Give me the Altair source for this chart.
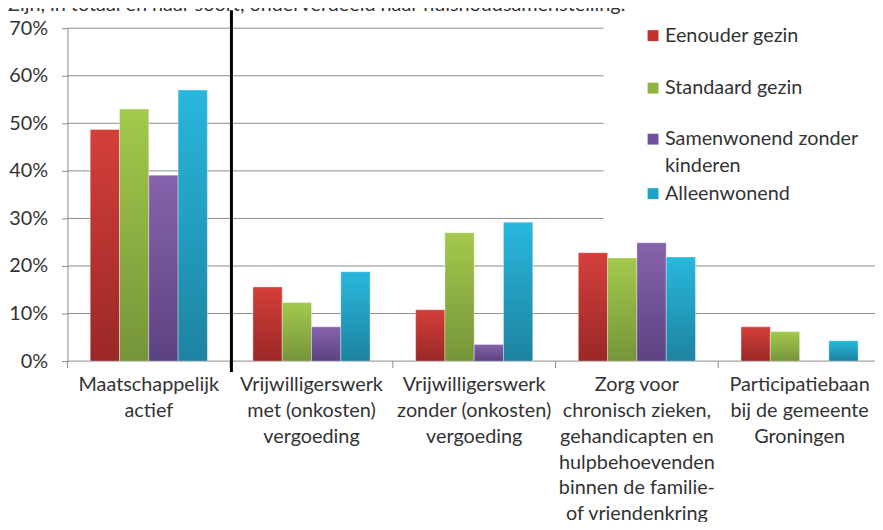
import altair as alt
import pandas as pd

# ---------------- data ----------------
categories = [
    "Maatschappelijk\nactief",
    "Vrijwilligerswerk\nmet (onkosten)\nvergoeding",
    "Vrijwilligerswerk\nzonder (onkosten)\nvergoeding",
    "Zorg voor\nchronisch zieken,\ngehandicapten en\nhulpbehoevenden\nbinnen de familie-\nof vriendenkring",
    "Participatiebaan\nbij de gemeente\nGroningen",
]
series = ["Eenouder gezin", "Standaard gezin", "Samenwonend zonder kinderen", "Alleenwonend"]
eenouder = [0.487, 0.156, 0.108, 0.228, 0.072]
standaard = [0.530, 0.123, 0.270, 0.217, 0.062]
samenwonend = [0.391, 0.072, 0.035, 0.249, None]
alleenwonend = [0.570, 0.188, 0.292, 0.219, 0.043]
y_ticks = [0.0, 0.1, 0.2, 0.3, 0.4, 0.5, 0.6, 0.7]
legend_labels = ["Eenouder gezin", "Standaard gezin", "Samenwonend zonder\nkinderen", "Alleenwonend"]
title_text = "Zijn, in totaal en naar soort, onderverdeeld naar huishoudsamenstelling."

# ---------------- styles ----------------
FONT = "Lato"
TEXT = "#333333"
GRID = "#8c8c8c"
FS = 20
top_colors = ["#d43f3b", "#a4c94c", "#8663ac", "#29b7dd"]
bottom_colors = ["#9a2826", "#76943a", "#5c4282", "#1d83a0"]
mid_colors = ["#c0312e", "#8fb43f", "#7250a0", "#1ea3c8"]
legend_y = [7.5, 60.5, 112, 167]  # layout positions (px, plot coords)

W, H = 821, 336      # plot runs slightly past the visible right edge (cropped like the reference)
P_INNER = 0.28
edge_px = -(P_INNER / 2) * W / len(categories)   # band start -> category boundary

rows = []
for s, vals in zip(series, [eenouder, standaard, samenwonend, alleenwonend]):
    for c, v in zip(categories, vals):
        if v is not None:
            rows.append({"category": c, "series": s, "value": v})
df = pd.DataFrame(rows)

x_scale = alt.Scale(domain=categories, paddingInner=P_INNER, paddingOuter=P_INNER / 2)
x_axis = alt.Axis(
    title=None, labelAngle=0, labelExpr="split(datum.label, '\\n')",
    labelFont=FONT, labelFontSize=FS, labelColor=TEXT, labelLineHeight=26,
    labelBaseline="top", labelAlign="center", labelPadding=14, labelLimit=300,
    ticks=False, tickSize=0, domain=False, grid=False,
)
y_scale = alt.Scale(domain=[0, 0.7], nice=False)
y_axis = alt.Axis(
    title=None, values=y_ticks, format=".0%", grid=False,
    tickColor=GRID, domainColor=GRID, tickSize=6, labelPadding=14,
    labelFont=FONT, labelFontSize=FS, labelColor=TEXT,
)

# horizontal gridlines
grid_df = pd.DataFrame({"v": y_ticks})
grid = alt.Chart(grid_df).mark_rule(color=GRID, strokeWidth=1).encode(
    y=alt.Y("v:Q", scale=y_scale, axis=y_axis),
    x=alt.value(0), x2=alt.value(W),
)

base = alt.Chart(df)
bars = []
for s, t, b in zip(series, top_colors, bottom_colors):
    grad = {"gradient": "linear", "x1": 0, "y1": 0, "x2": 0, "y2": 1,
            "stops": [{"offset": 0, "color": t}, {"offset": 1, "color": b}]}
    bars.append(
        base.transform_filter(alt.datum.series == s)
        .mark_bar(stroke="white", strokeOpacity=0.35, strokeWidth=1)
        .encode(
            x=alt.X("category:N", scale=x_scale, axis=x_axis),
            xOffset=alt.XOffset("series:N", scale=alt.Scale(domain=series, paddingInner=0, paddingOuter=0)),
            y=alt.Y("value:Q", scale=y_scale, axis=y_axis),
            fill=alt.value(grad),
        )
    )

# category-boundary tick marks below the baseline
cat_df = pd.DataFrame({"category": categories})
ticks = alt.Chart(cat_df).mark_rule(color=GRID, strokeWidth=1).encode(
    x=alt.X("category:N", scale=x_scale, bandPosition=0, axis=x_axis),
    xOffset=alt.value(edge_px),
    y=alt.value(H), y2=alt.value(H + 7),
)

dummy = pd.DataFrame({"a": [0]})
box = alt.Chart(dummy).mark_rect(color="white").encode(
    x=alt.value(541), x2=alt.value(W), y=alt.value(-18), y2=alt.value(214)
)
rule = alt.Chart(dummy).mark_rule(color="black", strokeWidth=3).encode(
    x=alt.value(165.5), y=alt.value(-18), y2=alt.value(347)
)
title = alt.Chart(dummy).mark_text(
    align="left", baseline="alphabetic", font=FONT, fontSize=FS, color=TEXT
).encode(x=alt.value(-60), y=alt.value(-17), text=alt.value(title_text))

legend_df = pd.DataFrame({"series": series, "label": legend_labels, "py": legend_y})
symbols = alt.Chart(legend_df).mark_square(size=121, opacity=1).encode(
    x=alt.value(591),
    y=alt.Y("py:Q", scale=None, axis=None),
    color=alt.Color("series:N", scale=alt.Scale(domain=series, range=mid_colors), legend=None),
)
texts = alt.Chart(legend_df).mark_text(
    align="left", baseline="top", dy=-10, lineBreak="\n", lineHeight=27,
    font=FONT, fontSize=FS, color=TEXT,
).encode(
    x=alt.value(603),
    y=alt.Y("py:Q", scale=None, axis=None),
    text="label:N",
)

chart = (
    alt.layer(grid, box, *bars, ticks, rule, symbols, texts, title)
    .properties(
        width=W, height=H,
        autosize=alt.AutoSizeParams(type="none"),
        padding={"left": 60, "top": 18, "right": -6, "bottom": 160},
    )
    .configure_view(stroke=None)
)

chart.save("out.html", embed_options={"renderer": "svg", "actions": False})
